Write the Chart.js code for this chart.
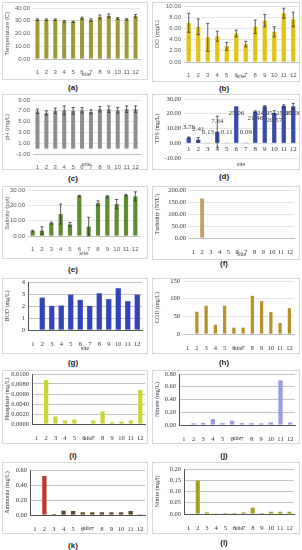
<!DOCTYPE html>
<html>
<head>
<meta charset="utf-8">
<script src="https://cdn.jsdelivr.net/npm/chart.js@4.4.0/dist/chart.umd.min.js"></script>
<style>
  body { margin: 0; background: #fff; width: 302px; height: 550px; position: relative; overflow: hidden; }
  canvas { position: absolute; }
  .cap { position: absolute; width: 40px; text-align: center; line-height: 10px;
         font: bold 8px "Liberation Sans", Arial, sans-serif; color: #222; }
</style>
</head>
<body>
<script>
// Water quality by site, 12 small panels
const sites = ['1', '2', '3', '4', '5', '6', '7', '8', '9', '10', '11', '12'];

const tempVals = [30.8, 30.8, 30.8, 29.5, 29.2, 32.0, 30.5, 33.0, 33.8, 31.8, 31.0, 33.6];
const tempErr  = [0.6, 0.6, 0.6, 0.7, 0.6, 0.8, 1.0, 1.5, 1.5, 0.7, 0.6, 1.3];

const doVals = [7.0, 6.3, 4.4, 4.6, 2.8, 5.1, 3.2, 6.3, 7.4, 5.4, 8.7, 7.6];
const doErr  = [1.7, 1.4, 2.5, 0.9, 0.7, 0.6, 0.5, 1.2, 1.1, 0.9, 0.9, 1.3];

const phVals = [6.9, 6.6, 7.0, 7.1, 7.0, 7.1, 6.8, 7.3, 7.3, 7.1, 7.3, 7.3];
const phErr  = [0.4, 0.4, 0.5, 0.8, 0.6, 0.5, 0.4, 0.5, 0.6, 0.5, 0.6, 0.6];

const tdsVals = [3.76, 2.41, 0.13, 7.84, 0.11, 25.06, 0.09, 21.46, 24.95, 20.57, 25.30, 25.00];
const tdsErr  = [0.5, 1.5, 0, 10.5, 0, 0, 0, 0.5, 0.5, 1.5, 0.8, 2.0];

const salVals = [3.2, 3.5, 8.4, 14.3, 7.5, 26.1, 6.2, 21.4, 25.8, 20.8, 26.6, 25.8];
const salErr  = [0.5, 2.5, 0.7, 6.5, 1.3, 0.4, 6.0, 1.5, 0.4, 3.0, 0.5, 3.0];

const turbVals = [0, 165, 0, 0, 0, 0, 0, 0, 0, 0, 0, 0];
const bodVals = [0, 2.70, 2.01, 2.04, 2.95, 2.51, 2.01, 3.06, 2.57, 3.48, 2.40, 2.95];
const codVals = [0, 63, 80, 26, 80, 18, 18, 108, 93, 62, 31, 73];
const phosVals = [0, 0.0088, 0.0015, 0.0007, 0.0009, 0.0001, 0.0007, 0.0025, 0.0004, 0.0005, 0.0007, 0.0068];
const nitrateVals = [0, 0.026, 0.036, 0.093, 0.030, 0.067, 0.030, 0.030, 0.026, 0.040, 0.70, 0.040];
const ammVals = [0, 0.52, 0.013, 0.058, 0.053, 0.036, 0.036, 0.036, 0.036, 0.036, 0.053, 0.009];
const ammHighlight = '2';
const nitriteVals = [0, 0.148, 0.0074, 0.003, 0.0044, 0.0044, 0.0074, 0.028, 0.0044, 0.010, 0.010, 0.010];

const SANS = '"Liberation Sans", Arial, sans-serif';
const SERIF = '"Liberation Serif", "Times New Roman", serif';

// white card with thin gray frame
const frame = {
    id: 'frame',
    beforeDraw(chart) {
        const { ctx, width, height } = chart;
        ctx.save();
        ctx.fillStyle = '#fff';
        ctx.fillRect(0, 0, width, height);
        ctx.strokeStyle = '#d9d9d9';
        ctx.lineWidth = 1;
        ctx.strokeRect(0.5, 0.5, width - 1, height - 1);
        ctx.restore();
    }
};

// whiskers from dataset.errors
const errorBars = {
    id: 'errorBars',
    afterDatasetsDraw(chart) {
        const ds = chart.data.datasets[0];
        if (!ds.errors) return;
        const y = chart.scales.y;
        const { ctx } = chart;
        ctx.save();
        ctx.strokeStyle = '#333';
        ctx.lineWidth = 0.8;
        chart.getDatasetMeta(0).data.forEach((bar, i) => {
            const e = ds.errors[i];
            if (!e) return;
            const top = y.getPixelForValue(ds.data[i] + e);
            const bot = y.getPixelForValue(ds.data[i] - e);
            ctx.beginPath();
            ctx.moveTo(bar.x, top); ctx.lineTo(bar.x, bot);
            ctx.moveTo(bar.x - 1.5, top); ctx.lineTo(bar.x + 1.5, top);
            ctx.moveTo(bar.x - 1.5, bot); ctx.lineTo(bar.x + 1.5, bot);
            ctx.stroke();
        });
        ctx.restore();
    }
};

// value labels (TDS panel)
const valueLabels = {
    id: 'valueLabels',
    afterDatasetsDraw(chart) {
        const ds = chart.data.datasets[0];
        if (!ds.showValues) return;
        const { ctx } = chart;
        ctx.save();
        ctx.font = '7px ' + SERIF;
        ctx.fillStyle = '#404040';
        ctx.textAlign = 'center';
        ctx.textBaseline = 'middle';
        chart.getDatasetMeta(0).data.forEach((bar, i) => {
            const v = ds.data[i];
            const ty = v > 15 ? bar.y + 7 : bar.y - 11;
            ctx.fillText(v.toFixed(2), bar.x, ty);
        });
        ctx.restore();
    }
};

// category labels sitting on the zero line (TDS panel, axis crosses at 0)
const zeroLabels = {
    id: 'zeroLabels',
    afterDraw(chart) {
        const ds = chart.data.datasets[0];
        if (!ds.labelsAtZero) return;
        const { ctx } = chart;
        const x = chart.scales.x, y = chart.scales.y;
        const y0 = y.getPixelForValue(0);
        ctx.save();
        ctx.font = '7px ' + SERIF;
        ctx.fillStyle = '#333';
        ctx.textAlign = 'center';
        ctx.textBaseline = 'top';
        chart.data.labels.forEach((lab, i) => {
            ctx.fillText(lab, x.getPixelForValue(i), y0 + 2);
        });
        ctx.restore();
    }
};

const panels = [
    { cap: '(a)', capY: 88, box: { l: 2, t: 2, w: 146, h: 78 }, plot: { l: 33, t: 8, r: 140, b: 59 },
      yTitle: 'Temperature (C)', min: 0, max: 40, step: 10, dec: 2, values: tempVals, errors: tempErr, color: '#9c9a3a' },
    { cap: '(b)', capY: 89, box: { l: 152, t: 2, w: 148, h: 80 }, plot: { l: 184, t: 6, r: 298, b: 62 },
      yTitle: 'DO (mg/L)', min: 0, max: 10, step: 2, dec: 2, values: doVals, errors: doErr, color: '#e2c416' },
    { cap: '(c)', capY: 179, box: { l: 2, t: 94, w: 146, h: 76 }, plot: { l: 33, t: 100, r: 140, b: 154 },
      yTitle: 'pH (mg/L)', min: -1, max: 9, step: 2, dec: 2, values: phVals, errors: phErr, color: '#8e8e8e' },
    { cap: '(d)', capY: 177, box: { l: 152, t: 94, w: 148, h: 76 }, plot: { l: 184, t: 99, r: 298, b: 158 },
      yTitle: 'TDS (mg/L)', min: -10, max: 30, step: 10, dec: 2, values: tdsVals, errors: tdsErr, color: '#3b4ba8',
      serif: true, xAtZero: true, showValues: true },
    { cap: '(e)', capY: 270, box: { l: 2, t: 186, w: 146, h: 73 }, plot: { l: 28, t: 190, r: 140, b: 236 },
      yTitle: 'Salinity (ppt)', min: 0, max: 30, step: 10, dec: 2, values: salVals, errors: salErr, color: '#5e8c31' },
    { cap: '(f)', capY: 264, box: { l: 152, t: 186, w: 148, h: 74 }, plot: { l: 189, t: 190, r: 294, b: 238 },
      yTitle: 'Turbidity (NTU)', min: 0, max: 200, step: 50, dec: 2, values: turbVals, color: '#c8a062',
      serif: true, xTitle: 'Site' },
    { cap: '(g)', capY: 363, box: { l: 2, t: 278, w: 146, h: 76 }, plot: { l: 28, t: 282, r: 142, b: 330 },
      yTitle: 'BOD (mg/L)', min: 0, max: 4, step: 1, dec: 0, values: bodVals, color: '#3344bb', serif: true, oldStyle: true, barPct: 0.55 },
    { cap: '(h)', capY: 363, box: { l: 152, t: 278, w: 148, h: 76 }, plot: { l: 183, t: 281, r: 294, b: 334 },
      yTitle: 'COD (mg/L)', min: 0, max: 150, step: 50, dec: 0, values: codVals, color: '#b8902c', serif: true, barPct: 0.35 },
    { cap: '(i)', capY: 456, box: { l: 2, t: 370, w: 146, h: 74 }, plot: { l: 32, t: 374, r: 145, b: 424 },
      yTitle: 'Phosphate (mg/L)', min: 0, max: 0.01, step: 0.002, dec: 4, values: phosVals, color: '#c8d62e', serif: true, oldStyle: true },
    { cap: '(j)', capY: 456, box: { l: 152, t: 370, w: 148, h: 74 }, plot: { l: 179, t: 374, r: 295, b: 425 },
      yTitle: 'Nitrate (mg/L)', min: 0, max: 0.8, step: 0.2, dec: 2, values: nitrateVals, color: '#9c9ce6', serif: true, oldStyle: true },
    { cap: '(k)', capY: 546, box: { l: 2, t: 462, w: 146, h: 72 }, plot: { l: 30, t: 470, r: 145, b: 515 },
      yTitle: 'Ammonia (mg/L)', min: 0, max: 0.6, step: 0.2, dec: 2, values: ammVals,
      color: sites.map(s => s === ammHighlight ? '#c0392b' : '#5b4b1e'), serif: true, oldStyle: true },
    { cap: '(l)', capY: 543, box: { l: 152, t: 462, w: 148, h: 72 }, plot: { l: 184, t: 469, r: 294, b: 514 },
      yTitle: 'Nitrite (mg/l)', min: 0, max: 0.2, step: 0.05, dec: 2, values: nitriteVals, color: '#a3a21e', serif: true, oldStyle: true }
];

function makePanel(p) {
    const { box, plot } = p;
    const cv = document.createElement('canvas');
    cv.width = box.w;
    cv.height = box.h;
    cv.style.left = box.l + 'px';
    cv.style.top = box.t + 'px';
    document.body.appendChild(cv);

    const cap = document.createElement('div');
    cap.className = 'cap';
    cap.textContent = p.cap;
    cap.style.left = (box.l + box.w / 2 - 22) + 'px';
    cap.style.top = (p.capY - 5) + 'px';
    document.body.appendChild(cap);

    const fam = p.serif ? SERIF : SANS;
    const txt = p.serif ? '#333' : '#595959';
    const gridCol = p.oldStyle ? '#b5b5b5' : '#dedede';
    const yW = plot.l - box.l;
    const xH = box.t + box.h - plot.b;

    new Chart(cv, {
        type: 'bar',
        data: {
            labels: sites,
            datasets: [{
                data: p.values,
                errors: p.errors,
                showValues: p.showValues,
                labelsAtZero: p.xAtZero,
                backgroundColor: p.color,
                barPercentage: p.barPct || 0.45,
                categoryPercentage: 1
            }]
        },
        options: {
            responsive: false,
            animation: false,
            layout: { padding: { top: plot.t - box.t, right: box.l + box.w - plot.r, bottom: 0, left: 0 } },
            plugins: { legend: { display: false }, tooltip: { enabled: false } },
            scales: {
                x: {
                    grid: { display: false },
                    border: { display: !p.xAtZero, color: p.oldStyle ? '#555' : '#bfbfbf' },
                    ticks: { display: !p.xAtZero, color: txt, font: { family: fam, size: p.serif ? 6.5 : 6 }, padding: 2, maxRotation: 0, autoSkip: false },
                    title: { display: true, text: p.xTitle || 'site', color: txt, font: { family: fam, size: 6 }, padding: { top: 0, bottom: 2 } },
                    afterFit(s) {
                        s.height = xH;
                        s.paddingLeft = 0; s.paddingRight = 0;
                    }
                },
                y: {
                    min: p.min, max: p.max,
                    grid: { color: gridCol, drawTicks: false, lineWidth: 0.8 },
                    border: { display: !!p.oldStyle, color: '#555' },
                    ticks: { stepSize: p.step, autoSkip: false, color: txt, font: { family: fam, size: p.serif ? 6.5 : 6 }, padding: 3,
                             callback: v => v.toFixed(p.dec) },
                    title: { display: true, text: p.yTitle, color: txt, font: { family: fam, size: 6 }, padding: { top: 2, bottom: 0 } },
                    afterFit(s) {
                        s.width = yW;
                        s.paddingTop = 0; s.paddingBottom = 0;
                    }
                }
            }
        },
        plugins: [frame, errorBars, valueLabels, zeroLabels]
    });
}

panels.forEach(makePanel);
</script>
</body>
</html>
